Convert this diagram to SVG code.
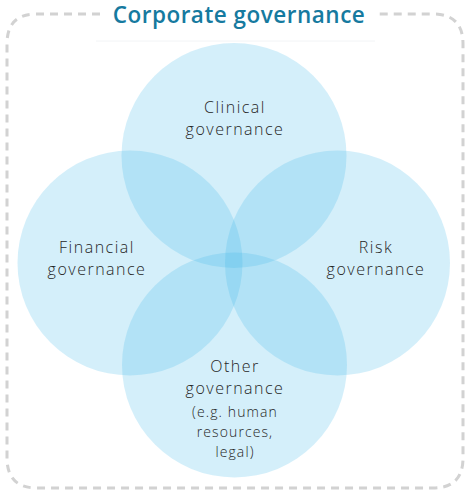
<svg xmlns="http://www.w3.org/2000/svg" width="470" height="495" viewBox="0 0 470 495">
<style>
.c{fill:#3cb4e6;fill-opacity:0.22}
.t{font-family:"Open Sans",Lato,sans-serif;font-size:16px;font-weight:300;letter-spacing:1.5px;fill:#262626;text-anchor:middle}
.s{font-size:14px;letter-spacing:1.1px}
.title{font-family:"Open Sans",Lato,sans-serif;font-size:22.5px;font-weight:600;letter-spacing:0.5px;fill:#167a9f;text-anchor:middle}
</style>
<rect width="470" height="495" fill="#ffffff"/>
<g id="frame">
<path d="M100,14 L36,14 Q7,14 7,44 L7,458 Q7,488 37,488 L433,488 Q463,488 463,458 L463,44 Q463,14 433,14 L375,14" fill="none" stroke="#d2d2d2" stroke-width="3" stroke-dasharray="8,6"/>
<line x1="96" y1="41" x2="375" y2="41" stroke="#f2f4f6" stroke-width="1"/>
<text id="title" class="title" x="239" y="23">Corporate governance</text>
</g>
<g id="node-clinical">
<circle class="c" cx="234" cy="155.5" r="112.5"/>
<text class="t" x="235" y="113">Clinical</text>
<text class="t" x="235" y="135">governance</text>
</g>
<g id="node-financial">
<circle class="c" cx="130" cy="263" r="112.5"/>
<text class="t" x="97" y="253">Financial</text>
<text class="t" x="97" y="275">governance</text>
</g>
<g id="node-risk">
<circle class="c" cx="337.5" cy="263" r="112.5"/>
<text class="t" x="376" y="253">Risk</text>
<text class="t" x="376" y="275">governance</text>
</g>
<g id="node-other">
<circle class="c" cx="234.5" cy="365" r="112.5"/>
<text class="t" x="235" y="372">Other</text>
<text class="t" x="235" y="394">governance</text>
<text class="t s" x="235" y="417">(e.g. human</text>
<text class="t s" x="235" y="437">resources,</text>
<text class="t s" x="235" y="457">legal)</text>
</g>
<g id="connectors"></g>
</svg>
